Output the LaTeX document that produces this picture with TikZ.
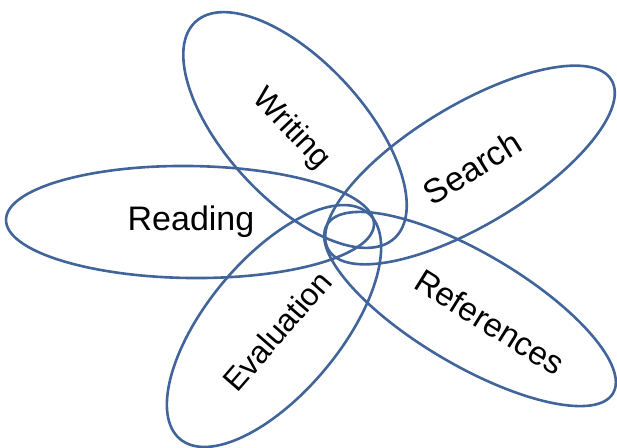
\documentclass[tikz,border=0pt]{standalone}
\usepackage{fontspec}
\setmainfont{Liberation Sans}
\usetikzlibrary{shapes.geometric}
\definecolor{petalblue}{HTML}{41659A}
\tikzset{
  petal/.style={ellipse, draw=petalblue, line width=2.6pt, inner sep=0pt, fill=none},
  lbl/.style={text=black, inner sep=0pt},
  lblbig/.style={lbl, font=\fontsize{34}{36}\selectfont},
  lblsmall/.style={lbl, font=\fontsize{31.5}{34}\selectfont}
}
\begin{document}
\begin{tikzpicture}[x=1pt,y=-1pt]
\useasboundingbox (0,0) rectangle (617,447);
% petals
\node[petal, minimum width=368pt, minimum height=112pt, rotate=-0.7] (pRead) at (190,222) {};
\node[petal, minimum width=294pt, minimum height=138pt, rotate=-47.4] (pWrite) at (295,130) {};
\node[petal, minimum width=330pt, minimum height=120pt, rotate=31] (pSearch) at (470,165) {};
\node[petal, minimum width=332pt, minimum height=112pt, rotate=-30.5] (pRef) at (470,309) {};
\node[petal, minimum width=294pt, minimum height=134pt, rotate=50.3] (pEval) at (274,326) {};
% labels
\node[lblbig] (tRead) at (191,222) {Reading};
\node[lblsmall, rotate=-46.5] (tWrite) at (291,129) {Writing};
\node[lblbig, rotate=32] (tSearch) at (472,168) {Search};
\node[lblbig, font=\fontsize{33}{36}\selectfont, rotate=-32] (tRef) at (490,322) {References};
\node[lblsmall, rotate=49] (tEval) at (277,331) {Evaluation};
\end{tikzpicture}
\end{document}
